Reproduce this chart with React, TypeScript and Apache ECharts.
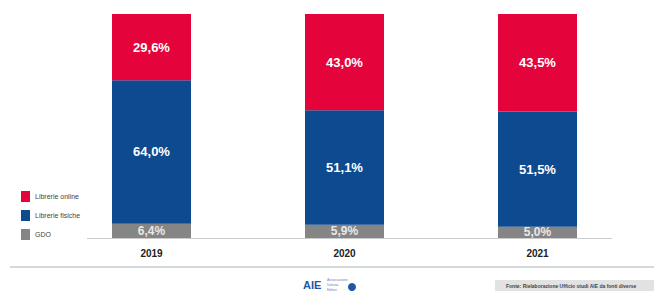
import React, { useEffect, useRef } from "react";
import * as echarts from "echarts";

const years = ["2019", "2020", "2021"];
const gdo = [6.4, 5.9, 5.0];
const fisiche = [64.0, 51.1, 51.5];
const online = [29.6, 43.0, 43.5];
const seriesNames = ["Librerie online", "Librerie fisiche", "GDO"];
const sourceText = "Fonte: Rielaborazione Ufficio studi AIE da fonti diverse";
const logoLines = ["Associazione", "Italiana", "Editori"];

const fmt = (v: number) => v.toFixed(1).replace(".", ",") + "%";
const FONT = "Liberation Sans, Arial, sans-serif";

export default function App() {
  const ref = useRef<HTMLDivElement>(null);
  useEffect(() => {
    if (!ref.current) return;
    const chart = echarts.init(ref.current, null, { renderer: "svg" });
    const label = (color: string, size: number) => ({
      show: true,
      position: "inside" as const,
      color,
      fontSize: size,
      fontWeight: "bold" as const,
      fontFamily: FONT,
      formatter: (p: any) => fmt(p.value),
    });
    chart.setOption({
      animation: false,
      backgroundColor: "#ffffff",
      textStyle: { fontFamily: FONT },
      grid: { left: 55, right: 20, top: 14, bottom: 59, containLabel: false },
      legend: {
        orient: "vertical",
        left: 16,
        top: 186,
        itemWidth: 9,
        itemHeight: 11,
        itemGap: 8,
        icon: "rect",
        data: seriesNames,
        textStyle: { fontSize: 7, color: "#444444" },
      },
      xAxis: {
        type: "category",
        data: years,
        axisLine: { show: false },
        axisTick: { show: false },
        axisLabel: {
          color: "#222222",
          fontSize: 10,
          fontWeight: "bold",
          margin: 10,
        },
      },
      yAxis: {
        type: "value",
        min: 0,
        max: 100,
        show: false,
        splitLine: { show: false },
      },
      series: [
        {
          name: "GDO",
          type: "bar",
          stack: "total",
          barWidth: 79,
          data: gdo,
          itemStyle: { color: "#858585" },
          label: label("#e8e8e8", 12),
        },
        {
          name: "Librerie fisiche",
          type: "bar",
          stack: "total",
          barWidth: 79,
          data: fisiche,
          itemStyle: { color: "#0d4a8f" },
          label: label("#ffffff", 13),
        },
        {
          name: "Librerie online",
          type: "bar",
          stack: "total",
          barWidth: 79,
          data: online,
          itemStyle: { color: "#e4033b" },
          label: label("#ffffff", 13),
        },
      ],
      graphic: [
        {
          type: "line",
          shape: { x1: 87, y1: 238.5, x2: 612, y2: 238.5 },
          style: { stroke: "#cccccc", lineWidth: 1 },
          z: 0,
        },
        {
          type: "line",
          shape: { x1: 10, y1: 267, x2: 654, y2: 267 },
          style: { stroke: "#d3d8d8", lineWidth: 2 },
        },
        {
          type: "text",
          x: 303,
          y: 279,
          style: {
            text: "AIE",
            fill: "#1f57a8",
            fontSize: 11,
            fontWeight: "bold",
            fontFamily: FONT,
          },
        },
        ...logoLines.map((t, i) => ({
          type: "text",
          x: 327,
          y: 278 + i * 5,
          style: {
            text: t,
            fill: "#6b86b8",
            fontSize: 3.5,
            verticalAlign: "top",
            fontFamily: FONT,
          },
        })),
        {
          type: "circle",
          shape: { cx: 352, cy: 287, r: 4 },
          style: { fill: "#1f57a8" },
        },
        {
          type: "rect",
          shape: { x: 495, y: 280, width: 159, height: 11 },
          style: { fill: "#e2e2e2" },
        },
        {
          type: "text",
          x: 506,
          y: 285.5,
          style: {
            text: sourceText,
            fill: "#444444",
            fontSize: 5,
            fontWeight: "bold",
            verticalAlign: "middle",
            fontFamily: FONT,
          },
        },
      ],
    });
    return () => chart.dispose();
  }, []);
  return <div ref={ref} style={{ width: 654, height: 297, position: "absolute", left: 0, top: 0 }} />;
}
